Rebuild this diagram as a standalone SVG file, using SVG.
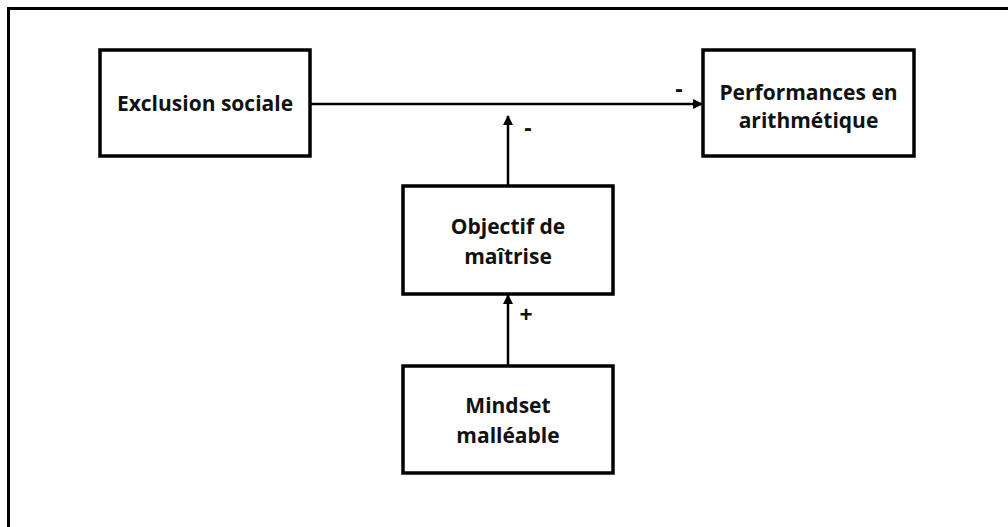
<svg xmlns="http://www.w3.org/2000/svg" width="1008" height="527" viewBox="0 0 1008 527">
<style>
.box{fill:#fff;stroke:#000;stroke-width:3.5}
.t{font-family:"Open Sans","Liberation Sans",sans-serif;font-weight:bold;font-size:21px;fill:#111;text-anchor:middle}
.lbl{font-family:"Open Sans","Liberation Sans",sans-serif;font-weight:bold;font-size:23px;fill:#111;text-anchor:middle}
.c{stroke:#000;stroke-width:2.5;fill:none}
</style>
<defs>
<marker id="ah" viewBox="0 0 10 10" refX="9" refY="5" markerWidth="4" markerHeight="4" orient="auto" markerUnits="strokeWidth">
<path d="M0,0 L10,5 L0,10 z" fill="#000"/>
</marker>
</defs>
<rect x="8.5" y="8.5" width="1020" height="540" fill="none" stroke="#000" stroke-width="3"/>
<g id="connectors">
<line class="c" x1="310" y1="104" x2="702" y2="104" marker-end="url(#ah)"/>
<line class="c" x1="508" y1="186" x2="508" y2="116" marker-end="url(#ah)"/>
<line class="c" x1="508" y1="366" x2="508" y2="295" marker-end="url(#ah)"/>
<text class="lbl" x="679" y="97">-</text>
<text class="lbl" x="528" y="136">-</text>
<text class="lbl" x="526" y="323">+</text>
</g>
<g id="exclusion">
<rect class="box" x="100" y="50" width="210" height="106"/>
<text class="t" x="205" y="111">Exclusion sociale</text>
</g>
<g id="performances">
<rect class="box" x="703" y="50" width="211" height="106"/>
<text class="t" x="808.5" y="100">Performances en</text>
<text class="t" x="808.5" y="128">arithmétique</text>
</g>
<g id="objectif">
<rect class="box" x="403" y="186" width="210" height="108"/>
<text class="t" x="508" y="234">Objectif de</text>
<text class="t" x="508" y="264">maîtrise</text>
</g>
<g id="mindset">
<rect class="box" x="403" y="366" width="210" height="107"/>
<text class="t" x="508" y="413">Mindset</text>
<text class="t" x="508" y="443">malléable</text>
</g>
</svg>
